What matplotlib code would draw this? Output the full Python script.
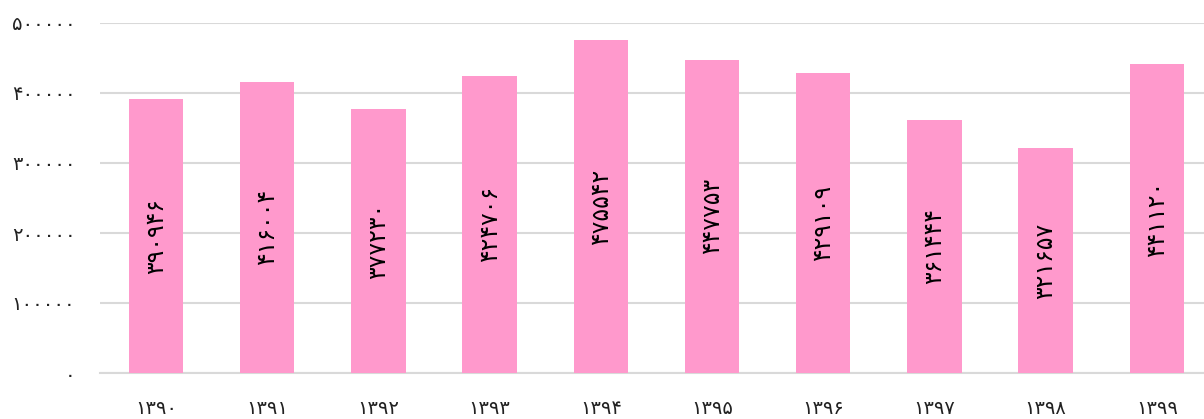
import matplotlib
matplotlib.use('Agg')
import matplotlib.pyplot as plt

# داده‌ها
years = ['1390', '1391', '1392', '1393', '1394', '1395', '1396', '1397', '1398', '1399']
values = [390946, 416004, 377230, 424706, 475542, 447753, 429109, 361444, 321657, 441120]
y_ticks = [0, 100000, 200000, 300000, 400000, 500000]

FA = str.maketrans('0123456789', '۰۱۲۳۴۵۶۷۸۹')

def fa(v):
    return str(v).translate(FA)

plt.rcParams['font.family'] = ['DejaVu Sans']

W, H = 1204, 419
fig = plt.figure(figsize=(W / 100, H / 100), dpi=100)
# ناحیه رسم کمی از سمت راست تصویر بیرون می‌زند (مثل مرجع)
ax = fig.add_axes([100.4 / W, (H - 373) / H, 1112 / W, 350 / H])

x = range(len(years))
bars = ax.bar(x, values, width=0.49, color='#ff99cc', zorder=3)

for i, v in enumerate(values):
    ax.text(i, v / 2, fa(v), rotation=90, ha='center', va='center',
            fontsize=17, color='black', zorder=4)

ax.set_xlim(-0.5, len(years) - 0.5)
ax.set_ylim(0, 500000)
ax.set_yticks(y_ticks)
ax.set_yticklabels([fa(t) for t in y_ticks], fontsize=14, color='#222222')
ax.set_xticks(list(x))
ax.set_xticklabels([fa(y) for y in years], fontsize=14, color='#222222')

ax.grid(axis='y', color='#d9d9d9', linewidth=1.5, zorder=0)
for s in ['top', 'right', 'left']:
    ax.spines[s].set_visible(False)
ax.spines['bottom'].set_color('#d9d9d9')
ax.spines['bottom'].set_linewidth(1.5)
ax.tick_params(axis='both', length=0)
ax.tick_params(axis='x', pad=19)
ax.tick_params(axis='y', pad=18)

fig.savefig('out.png', dpi=100)
